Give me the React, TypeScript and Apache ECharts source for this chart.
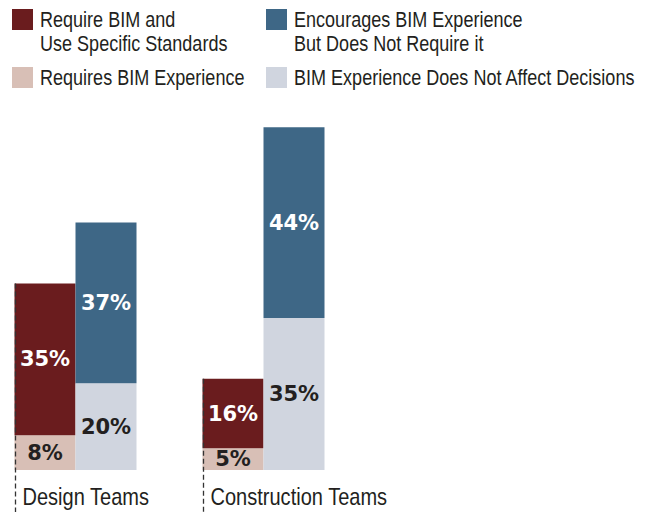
import React, { useEffect, useRef } from 'react';
import * as echarts from 'echarts';

const categories = ['Design Teams', 'Construction Teams'];
const requiresBIMExperience = [8, 5];
const requireBIMStandards = [35, 16];
const doesNotAffect = [20, 35];
const encourages = [37, 44];
const nameStandards = 'Require BIM and\nUse Specific Standards';
const nameEncourages = 'Encourages BIM Experience\nBut Does Not Require it';
const nameRequires = 'Requires BIM Experience';
const nameNoEffect = 'BIM Experience Does Not Affect Decisions';

const DARK_RED = '#6a1c1e';
const BLUE = '#3e6786';
const PINK = '#d8bfb6';
const GREY = '#d0d5df';
const TEXT = '#231f20';
const SANS = "'Liberation Sans', Arial, sans-serif";
const BAR_W = 61;

export default function App() {
  const ref = useRef<HTMLDivElement>(null);
  useEffect(() => {
    if (!ref.current) return;
    const chart = echarts.init(ref.current, null, { renderer: 'svg' });
    const label = (color: string) => ({
      show: true,
      position: 'inside',
      formatter: '{c}%',
      color,
      fontFamily: "'DejaVu Sans', sans-serif",
      fontWeight: 'bold',
      fontSize: 21,
    });
    const legendItems = [
      { name: nameStandards, color: DARK_RED, x: 12, y: 9 },
      { name: nameEncourages, color: BLUE, x: 266, y: 9 },
      { name: nameRequires, color: PINK, x: 12, y: 67 },
      { name: nameNoEffect, color: GREY, x: 266, y: 67 },
    ];
    const graphics: any[] = [];
    legendItems.forEach((it) => {
      graphics.push({
        type: 'rect',
        shape: { x: it.x, y: it.y, width: 21, height: 21 },
        style: { fill: it.color },
      });
      graphics.push({
        type: 'text',
        x: it.x + 28,
        y: it.y - 2,
        scaleX: 0.82,
        style: {
          text: it.name,
          fill: TEXT,
          font: `22px ${SANS}`,
          lineHeight: 24,
          verticalAlign: 'top',
          align: 'left',
        },
      });
    });
    const series = [
      { name: nameRequires, stack: 'a', data: requiresBIMExperience, color: PINK, lab: TEXT },
      { name: nameStandards, stack: 'a', data: requireBIMStandards, color: DARK_RED, lab: '#ffffff' },
      { name: nameNoEffect, stack: 'b', data: doesNotAffect, color: GREY, lab: TEXT },
      { name: nameEncourages, stack: 'b', data: encourages, color: BLUE, lab: '#ffffff' },
    ].map((s) => ({
      name: s.name,
      type: 'bar',
      stack: s.stack,
      data: s.data,
      barWidth: BAR_W,
      barGap: '0%',
      clip: false,
      itemStyle: { color: s.color },
      label: label(s.lab),
    }));
    chart.setOption({
      animation: false,
      grid: { left: 75.5, width: 188, top: 36, bottom: 42 },
      xAxis: {
        type: 'category',
        data: categories,
        boundaryGap: false,
        axisLine: { show: false },
        axisTick: { show: false },
        axisLabel: { show: false },
        splitLine: { show: false },
      },
      yAxis: { type: 'value', min: 0, max: 100, show: false, splitLine: { show: false } },
      series,
    });
    categories.forEach((c, i) => {
      const p = chart.convertToPixel({ gridIndex: 0 }, [i, requiresBIMExperience[i] + requireBIMStandards[i]]) as number[];
      const left = Math.round(p[0] - BAR_W) + 0.5;
      graphics.push({
        type: 'line',
        z: 100,
        shape: { x1: left, y1: p[1], x2: left, y2: 512 },
        style: { stroke: '#333333', lineWidth: 1.3, lineDash: [5, 3] },
      });
      graphics.push({
        type: 'text',
        x: left + 7,
        y: 485,
        scaleX: 0.835,
        style: { text: c, fill: TEXT, font: `24px ${SANS}`, verticalAlign: 'top', align: 'left' },
      });
    });
    chart.setOption({ graphic: graphics });
    return () => chart.dispose();
  }, []);
  return <div ref={ref} style={{ width: 651, height: 512, position: 'absolute', left: 0, top: 0 }} />;
}
